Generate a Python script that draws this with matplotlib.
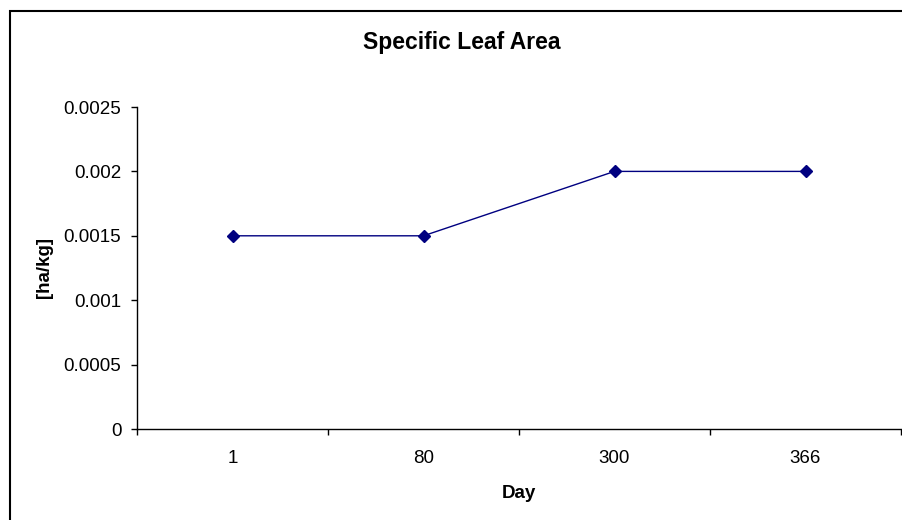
import matplotlib.pyplot as plt
from matplotlib.patches import Rectangle

plt.rcParams['font.family'] = ['Liberation Sans', 'DejaVu Sans']

days = ['1', '80', '300', '366']
sla = [0.0015, 0.0015, 0.002, 0.002]
yticks = [0, 0.0005, 0.001, 0.0015, 0.002, 0.0025]
ytick_labels = ['0', '0.0005', '0.001', '0.0015', '0.002', '0.0025']

fig = plt.figure(figsize=(9.02, 5.2), dpi=100)
ax = fig.add_axes([137 / 902, 1 - 429 / 520, 764 / 902, 322 / 520])

x = list(range(len(days)))
ax.plot(x, sla, color='#000080', lw=1, marker='D', markersize=6.5,
        markerfacecolor='#000080', markeredgecolor='#000080')

ax.set_xlim(-0.5, len(days) - 0.5)
ax.set_ylim(0, 0.0025)

# category boundaries get the tick marks, labels sit in the middle
ax.set_xticks([i - 0.5 for i in range(len(days) + 1)])
ax.set_xticklabels([])
ax.set_xticks(x, minor=True)
ax.set_xticklabels(days, minor=True)
ax.tick_params(axis='x', which='major', length=4.3, width=1, direction='out')
ax.tick_params(axis='x', which='minor', length=0, pad=15, labelsize=13.5)

ax.set_yticks(yticks)
ax.set_yticklabels(ytick_labels)
ax.tick_params(axis='y', length=4.3, width=1, direction='out', labelsize=13.5, pad=7)

for s in ['top', 'right']:
    ax.spines[s].set_visible(False)
for s in ['left', 'bottom']:
    ax.spines[s].set_linewidth(1)

fig.text(462 / 902, 1 - 42 / 520, 'Specific Leaf Area', ha='center', va='center',
         fontsize=16.5, fontweight='bold')
fig.text(519 / 902, 1 - 493 / 520, 'Day', ha='center', va='center',
         fontsize=13.5, fontweight='bold')
fig.text(44 / 902, 1 - 268 / 520, '[ha/kg]', ha='center', va='center',
         rotation=90, fontsize=13.5, fontweight='bold')

# chart area border, right and bottom edges run off the image
fig.patches.append(Rectangle((10 / 902, -0.1), 1.2, 1 - 11 / 520 + 0.1,
                             transform=fig.transFigure, fill=False,
                             edgecolor='black', lw=1.5))

fig.savefig('out.png', dpi=100)
